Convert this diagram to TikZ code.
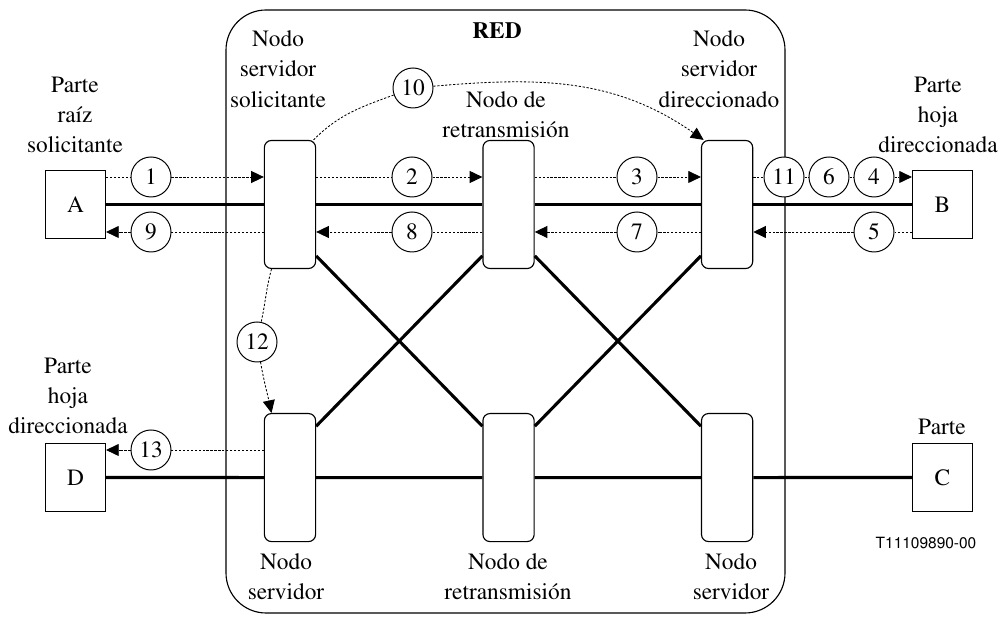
\documentclass[tikz,border=0pt]{standalone}
\usepackage[T1]{fontenc}
\usepackage{mathptmx}
\usepackage{helvet}
\usepackage{tikz}
\usetikzlibrary{positioning,arrows.meta,shapes}

\tikzset{
    party/.style={draw,line width=0.8pt,minimum width=1.5cm,minimum height=1.7cm,fill=white},
    srvnode/.style={draw,rounded corners=5pt,line width=0.8pt,minimum width=1.28cm,minimum height=3.2cm,fill=white},
    num/.style={draw,circle,line width=0.7pt,minimum size=1cm,inner sep=0pt,fill=white},
    lbl/.style={align=center},
    link/.style={line width=2.2pt},
    msg/.style={dash pattern=on 1.6pt off 1.2pt,line width=0.6pt},
    msgto/.style={msg,-{Triangle[length=9pt,width=8.5pt]}}
}

\begin{document}
\begin{tikzpicture}[x=0.025cm,y=0.025cm,node distance=5.4625cm,on grid,
    font=\rmfamily\fontsize{16.6}{21.5}\selectfont]
    \useasboundingbox (0,0) rectangle (1002,617);
    % red
    \draw[line width=0.8pt,rounded corners=1cm] (226,4) rectangle (785,607);
    \node[font=\rmfamily\bfseries\fontsize{16.6}{21.5}\selectfont] (red) at (497,587) {RED};

    % nodos
    \node[srvnode] (ns1) at (290,412.5) {};
    \node[srvnode] (nr1) [right=of ns1] {};
    \node[srvnode] (nsd) [right=of nr1] {};
    \node[srvnode] (ns2) [below=6.825cm of ns1] {};
    \node[srvnode] (nr2) [right=of ns2] {};
    \node[srvnode] (ns3) [right=of nr2] {};

    % partes
    \node[party] (A) at (75.5,412.5) {A};
    \node[party] (B) at (942.5,412.5) {B};
    \node[party] (D) at (75.5,139.5) {D};
    \node[party] (C) at (942.5,139.5) {C};

    \node[lbl] (lA) at (75,502) {Parte\\ra\'{\i}z\\solicitante};
    \node[lbl] (lB) at (938,502) {Parte\\hoja\\direccionada};
    \node[lbl] (lD) at (68,221) {Parte\\hoja\\direccionada};
    \node[lbl] (lC) at (942,190) {Parte};
    \node[lbl] (lns1) at (278,548) {Nodo\\servidor\\solicitante};
    \node[lbl] (lnr1) at (506,502) {Nodo de\\retransmisi\'on};
    \node[lbl] (lnsd) at (719,548) {Nodo\\servidor\\direccionado};
    \node[lbl] (lns2) at (286,40) {Nodo\\servidor};
    \node[lbl] (lnr2) at (508,40) {Nodo de\\retransmisi\'on};
    \node[lbl] (lns3) at (731,40) {Nodo\\servidor};
    \node[font=\sffamily\fontsize{11}{13}\selectfont] (code) at (926,74) {T11109890-00};

    % enlaces
    \draw[link] (A) -- (ns1) -- (nr1) -- (nsd) -- (B);
    \draw[link] (D) -- (ns2) -- (nr2) -- (ns3) -- (C);
    \draw[link] (ns1.-63) -- (nr2.117);
    \draw[link] (nr1.-117) -- (ns2.63);
    \draw[link] (nr1.-63) -- (ns3.117);
    \draw[link] (nsd.-117) -- (nr2.63);

    % mensajes
    \node[num] (m1) at (151,440) {1};
    \node[num] (m9) at (151,385) {9};
    \node[num] (m2) at (412,440) {2};
    \node[num] (m8) at (412,385) {8};
    \node[num] (m3) at (637,440) {3};
    \node[num] (m7) at (637,385) {7};
    \node[num] (m11) at (784,440) {11};
    \node[num] (m6) at (829,440) {6};
    \node[num] (m4) at (874,440) {4};
    \node[num] (m5) at (874,385) {5};
    \node[num] (m10) at (413,529) {10};
    \node[num] (m12) at (257,275) {12};
    \node[num] (m13) at (151,167) {13};

    \draw[msgto] (A.east |- m1) -- (m1) -- (ns1.west |- m1);
    \draw[msgto] (ns1.west |- m9) -- (m9) -- (A.east |- m9);
    \draw[msgto] (ns1.east |- m2) -- (m2) -- (nr1.west |- m2);
    \draw[msgto] (nr1.west |- m8) -- (m8) -- (ns1.east |- m8);
    \draw[msgto] (nr1.east |- m3) -- (m3) -- (nsd.west |- m3);
    \draw[msgto] (nsd.west |- m7) -- (m7) -- (nr1.east |- m7);
    \draw[msgto] (nsd.east |- m11) -- (m11) -- (m6) -- (m4) -- (B.west |- m4);
    \draw[msgto] (B.west |- m5) -- (m5) -- (nsd.east |- m5);
    \draw[msgto] (ns2.west |- m13) -- (m13) -- (D.east |- m13);
    \draw[msg] (ns1.70) to[out=45,in=200] (m10);
    \draw[msgto] (m10) to[out=5,in=145] (nsd.110);
    \draw[msg] (ns1.-106) to[out=-105,in=78] (m12);
    \draw[msgto] (m12) to[out=-80,in=102] (ns2.106);
\end{tikzpicture}
\end{document}
